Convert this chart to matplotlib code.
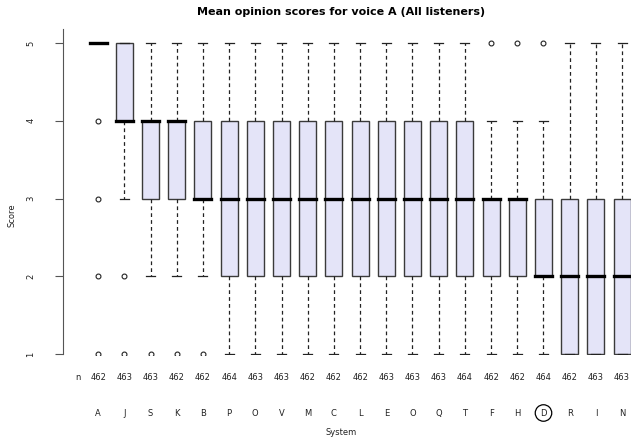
import matplotlib
matplotlib.use('Agg')
import matplotlib.pyplot as plt
import matplotlib.transforms as mtransforms

systems = ['A', 'J', 'S', 'K', 'B', 'P', 'O', 'V', 'M', 'C', 'L',
           'E', 'O', 'Q', 'T', 'F', 'H', 'D', 'R', 'I', 'N']
counts = [462, 463, 463, 462, 462, 464, 463, 463, 462, 462, 462,
          463, 463, 463, 464, 462, 462, 464, 462, 463, 463]
whis_lo = [5, 3, 2, 2, 2, 1, 1, 1, 1, 1, 1, 1, 1, 1, 1, 1, 1, 1, 1, 1, 1]
q1 = [5, 4, 3, 3, 3, 2, 2, 2, 2, 2, 2, 2, 2, 2, 2, 2, 2, 2, 1, 1, 1]
med = [5, 4, 4, 4, 3, 3, 3, 3, 3, 3, 3, 3, 3, 3, 3, 3, 3, 2, 2, 2, 2]
q3 = [5, 5, 4, 4, 4, 4, 4, 4, 4, 4, 4, 4, 4, 4, 4, 3, 3, 3, 3, 3, 3]
whis_hi = [5, 5, 5, 5, 5, 5, 5, 5, 5, 5, 5, 5, 5, 5, 5, 4, 4, 4, 5, 5, 5]
outliers = [[4, 3, 2, 1], [2, 1], [1], [1], [1], [], [], [], [], [], [],
            [], [], [], [], [5], [5], [5], [], [], []]
highlight = 'D'

stats = []
for i in range(len(systems)):
    stats.append({'whislo': whis_lo[i], 'q1': q1[i], 'med': med[i],
                  'q3': q3[i], 'whishi': whis_hi[i], 'fliers': outliers[i]})

fig = plt.figure(figsize=(6.31, 4.4), dpi=100)
ax = fig.add_axes([63 / 631, 85 / 440, 568 / 631, 326 / 440])

pos = list(range(len(systems)))
ax.bxp(stats, positions=pos, widths=0.65, patch_artist=True,
       showfliers=True,
       boxprops=dict(facecolor='#e4e4f8', edgecolor='#3a3a3a', linewidth=1.0),
       medianprops=dict(color='black', linewidth=2.4, solid_capstyle='projecting'),
       whiskerprops=dict(color='#222222', linestyle=(0, (3, 2.5)), linewidth=0.9),
       capprops=dict(color='#222222', linewidth=0.9),
       capwidths=0.35,
       flierprops=dict(marker='o', markersize=3.5, markerfacecolor='none',
                       markeredgecolor='#222222', markeredgewidth=0.8))

ax.set_xlim(-1.34, 20.34)
ax.set_ylim(0.99, 5.18)
for s in ['top', 'right', 'bottom']:
    ax.spines[s].set_visible(False)
ax.spines['left'].set_color('#555555')
ax.spines['left'].set_bounds(1, 5.18)
ax.set_xticks([])
ax.set_yticks([1, 2, 3, 4, 5])
ax.set_yticklabels(['1', '2', '3', '4', '5'], rotation=90, va='center',
                   fontsize=6, color='#222222')
ax.tick_params(axis='y', length=6, width=0.8, color='#555555', pad=14)

trans = mtransforms.blended_transform_factory(ax.transData, fig.transFigure)
ax.text(-0.76, 1 - 377 / 440, 'n', transform=trans, ha='center', va='center',
        fontsize=6, color='#222222', clip_on=False)
for i, (s, n) in enumerate(zip(systems, counts)):
    ax.text(i, 1 - 377 / 440, str(n), transform=trans, ha='center',
            va='center', fontsize=6, color='#222222', clip_on=False)
    box = None
    if s == highlight:
        box = dict(boxstyle='circle,pad=0.45', facecolor='none',
                   edgecolor='black', linewidth=0.9)
    ax.text(i, 1 - 413 / 440, s, transform=trans, ha='center', va='center',
            fontsize=6, color='#222222', clip_on=False, bbox=box)

fig.text(341 / 631, 1 - 432 / 440, 'System', ha='center', va='center',
         fontsize=6, color='#222222')
fig.text(12 / 631, 1 - 215 / 440, 'Score', ha='center', va='center',
         fontsize=6, rotation=90, color='#222222')
fig.text(341 / 631, 1 - 12 / 440, 'Mean opinion scores for voice A (All listeners)',
         ha='center', va='center', fontsize=8, fontweight='bold')

fig.savefig('out.png', dpi=100)
